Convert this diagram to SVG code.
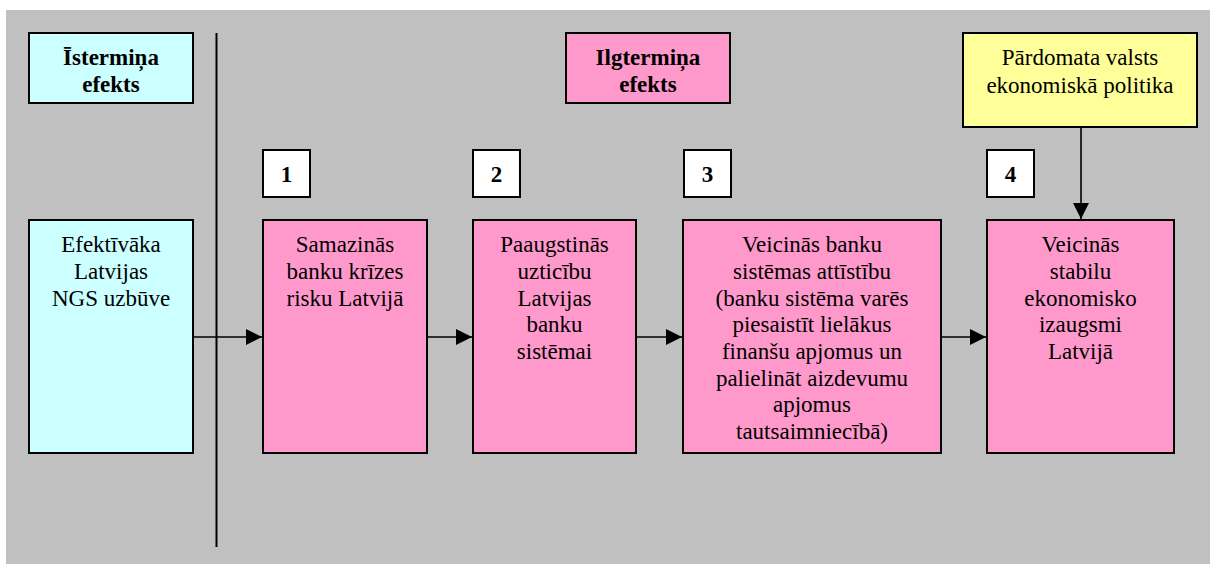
<svg xmlns="http://www.w3.org/2000/svg" width="1210" height="564" viewBox="0 0 1210 564">
<style>
.box{stroke:#000;stroke-width:2}
.cyan{fill:#ccffff}
.pink{fill:#ff99cc}
.yellow{fill:#ffff99}
.white{fill:#fff}
.b{font-weight:bold}
.conn{stroke:#000;stroke-width:1.6;fill:none}
</style>
<defs>
<marker id="arr" markerUnits="userSpaceOnUse" markerWidth="16" markerHeight="16" refX="16" refY="8" orient="auto">
<path d="M0,0 L16,8 L0,16 Z" fill="#000"/>
</marker>
</defs>
<rect x="6" y="10" width="1204" height="554" fill="#c0c0c0"/>
<line x1="216.5" y1="33" x2="216.5" y2="547" stroke="#000" stroke-width="2"/>

<g font-family="'Liberation Serif', 'Times New Roman', Times, serif" font-size="23" text-anchor="middle" fill="#000">
<g id="istermina">
<rect class="box cyan" x="29" y="33" width="164" height="70"/>
<text class="b" x="111" y="65">Īstermiņa</text>
<text class="b" x="111" y="92">efekts</text>
</g>
<g id="ilgtermina">
<rect class="box pink" x="566" y="33" width="164" height="70"/>
<text class="b" x="648" y="65">Ilgtermiņa</text>
<text class="b" x="648" y="92">efekts</text>
</g>
<g id="politika">
<rect class="box yellow" x="963" y="33" width="234" height="94"/>
<text x="1080" y="65">Pārdomata valsts</text>
<text x="1080" y="93">ekonomiskā politika</text>
</g>

<g id="n1"><rect class="box white" x="263" y="150" width="47" height="47"/><text class="b" x="286.5" y="182">1</text></g>
<g id="n2"><rect class="box white" x="473" y="150" width="47" height="47"/><text class="b" x="496.5" y="182">2</text></g>
<g id="n3"><rect class="box white" x="684" y="150" width="47" height="47"/><text class="b" x="707.5" y="182">3</text></g>
<g id="n4"><rect class="box white" x="987" y="150" width="47" height="47"/><text class="b" x="1010.5" y="182">4</text></g>

<g id="ngs">
<rect class="box cyan" x="29" y="220" width="164" height="233"/>
<text x="111" y="252">Efektīvāka</text>
<text x="111" y="279">Latvijas</text>
<text x="111" y="306">NGS uzbūve</text>
</g>
<g id="b1">
<rect class="box pink" x="263" y="220" width="164" height="233"/>
<text x="345" y="252">Samazinās</text>
<text x="345" y="279">banku krīzes</text>
<text x="345" y="306">risku Latvijā</text>
</g>
<g id="b2">
<rect class="box pink" x="473" y="220" width="163" height="233"/>
<text x="554.5" y="252">Paaugstinās</text>
<text x="554.5" y="279">uzticību</text>
<text x="554.5" y="306">Latvijas</text>
<text x="554.5" y="332">banku</text>
<text x="554.5" y="359">sistēmai</text>
</g>
<g id="b3">
<rect class="box pink" x="683" y="220" width="258" height="233"/>
<text x="812" y="252">Veicinās banku</text>
<text x="812" y="279">sistēmas attīstību</text>
<text x="812" y="306">(banku sistēma varēs</text>
<text x="812" y="332">piesaistīt lielākus</text>
<text x="812" y="359">finanšu apjomus un</text>
<text x="812" y="386">palielināt aizdevumu</text>
<text x="812" y="412">apjomus</text>
<text x="812" y="439">tautsaimniecībā)</text>
</g>
<g id="b4">
<rect class="box pink" x="987" y="220" width="187" height="233"/>
<text x="1080.5" y="252">Veicinās</text>
<text x="1080.5" y="279">stabilu</text>
<text x="1080.5" y="306">ekonomisko</text>
<text x="1080.5" y="332">izaugsmi</text>
<text x="1080.5" y="359">Latvijā</text>
</g>
</g>

<g id="connectors">
<line class="conn" x1="193" y1="337" x2="262" y2="337" marker-end="url(#arr)"/>
<line class="conn" x1="427" y1="337" x2="472" y2="337" marker-end="url(#arr)"/>
<line class="conn" x1="636" y1="337" x2="682" y2="337" marker-end="url(#arr)"/>
<line class="conn" x1="941" y1="337" x2="986" y2="337" marker-end="url(#arr)"/>
<line class="conn" x1="1081" y1="127" x2="1081" y2="219" marker-end="url(#arr)"/>
</g>
</svg>
